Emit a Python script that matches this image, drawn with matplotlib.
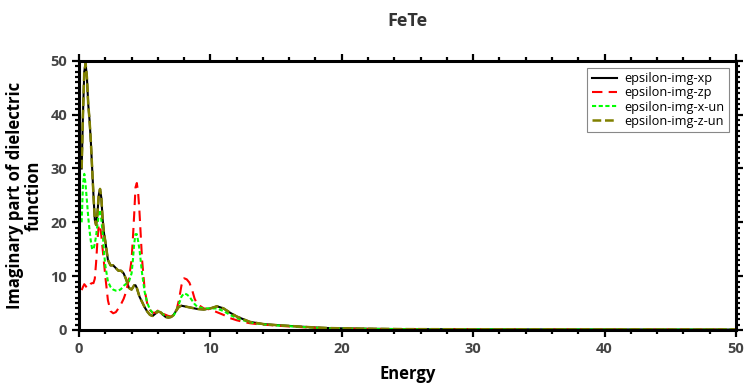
import matplotlib
matplotlib.use("Agg")
import matplotlib.pyplot as plt
from matplotlib.ticker import MultipleLocator

plt.rcParams['font.family'] = ['Open Sans', 'DejaVu Sans']

title = "FeTe"
xlabel = "Energy"
ylabel = "Imaginary part of dielectric\nfunction"
series_names = ["epsilon-img-xp", "epsilon-img-zp", "epsilon-img-x-un", "epsilon-img-z-un"]

energy = [0.2, 0.3, 0.4, 0.5, 0.6, 0.7, 0.8, 0.9, 1.0, 1.1, 1.2, 1.3, 1.4, 1.5, 1.6, 1.7, 1.8, 1.9,
          2.0, 2.2, 2.4, 2.6, 2.8, 3.0, 3.2, 3.4, 3.6, 3.8, 4.0, 4.1, 4.2, 4.3, 4.4, 4.5, 4.6, 4.8,
          5.0, 5.2, 5.4, 5.6, 5.8, 6.0, 6.2, 6.4, 6.6, 6.8, 7.0, 7.2, 7.4, 7.6, 7.8, 8.0, 8.2, 8.4,
          8.6, 8.8, 9.0, 9.5, 10.0, 10.5, 11.0, 11.5, 12.0, 12.5, 13.0, 13.5, 14, 15, 16, 17, 18, 19,
          20, 22, 25, 30, 35, 40, 45, 50]

eps_xp = [30, 40, 48, 49.5, 47, 42, 39, 35, 30, 25, 20.5, 19.5, 21.5, 25, 26.2, 24.5, 20.5, 18,
          16.5, 13, 12, 12, 11.5, 11, 11, 10.5, 9.3, 7.8, 7.5, 7.9, 8.3, 8.3, 7.8, 7, 6.2, 5.2,
          4.2, 3.4, 2.8, 2.6, 3.0, 3.4, 3.3, 2.8, 2.4, 2.3, 2.4, 2.8, 3.6, 4.3, 4.5, 4.4, 4.3, 4.2,
          4.1, 4.0, 3.9, 3.8, 4.0, 4.4, 4.0, 3.2, 2.5, 2.0, 1.5, 1.3, 1.1, 0.9, 0.75, 0.6, 0.45, 0.35,
          0.3, 0.22, 0.15, 0.12, 0.1, 0.09, 0.08, 0.07]

eps_zp = [7.4, 8.0, 8.5, 8.2, 7.8, 7.8, 8.2, 8.6, 8.7, 8.7, 9.5, 12.5, 16.5, 19.5, 19.5, 17.5, 15, 12.5,
          10, 5.5, 3.5, 3.1, 3.3, 4.0, 4.8, 5.8, 7.2, 9.5, 13, 17, 21.5, 26.5, 27.3, 25.5, 22, 13,
          7.4, 4.8, 3.7, 3.2, 3.2, 3.6, 3.5, 3.0, 2.8, 2.6, 2.5, 2.6, 3.5, 5.5, 8.3, 9.6, 9.4, 8.8,
          7.5, 5.8, 4.8, 4.0, 3.8, 3.3, 2.8, 2.2, 1.8, 1.5, 1.25, 1.1, 1.0, 0.8, 0.65, 0.5, 0.4, 0.3,
          0.25, 0.18, 0.12, 0.1, 0.08, 0.07, 0.06, 0.05]

eps_x_un = [20, 27, 29, 27, 24, 21, 18.5, 16.5, 15, 15, 16, 17.5, 19.5, 21.5, 22.3, 20.5, 18, 14.5,
            12, 9, 8, 7.5, 7.3, 7.3, 7.6, 8.2, 8.6, 9, 10.5, 13, 16, 17.8, 17.8, 16.5, 15, 10.5,
            7, 5, 3.8, 3.2, 3.2, 3.5, 3.4, 2.9, 2.6, 2.4, 2.4, 2.7, 3.5, 4.8, 6.2, 6.8, 6.6, 6.2,
            5.5, 4.8, 4.3, 4.0, 4.0, 4.0, 3.5, 2.8, 2.2, 1.8, 1.4, 1.2, 1.05, 0.85, 0.7, 0.55, 0.42, 0.33,
            0.28, 0.2, 0.14, 0.11, 0.09, 0.08, 0.07, 0.06]

eps_z_un = [30, 40, 48, 49.5, 47, 42, 39, 35, 30, 25, 20.5, 19.5, 21.5, 25, 26.2, 24.5, 20.5, 18,
            16.5, 13, 12, 12, 11.5, 11, 11, 10.5, 9.3, 7.8, 7.5, 7.9, 8.3, 8.3, 7.8, 7, 6.2, 5.2,
            4.2, 3.4, 2.8, 2.6, 3.0, 3.4, 3.3, 2.8, 2.4, 2.3, 2.4, 2.8, 3.6, 4.3, 4.5, 4.4, 4.3, 4.2,
            4.1, 4.0, 3.9, 3.8, 4.0, 4.4, 4.0, 3.2, 2.5, 2.0, 1.5, 1.3, 1.1, 0.9, 0.75, 0.6, 0.45, 0.35,
            0.3, 0.22, 0.15, 0.12, 0.1, 0.09, 0.08, 0.07]

fig = plt.figure(figsize=(7.49, 3.85), dpi=100)
ax = fig.add_axes([0.1055, 0.143, 0.877, 0.699])

ax.plot(energy, eps_xp, color='black', lw=1.5, ls='-', label=series_names[0])
ax.plot(energy, eps_zp, color='#ff0000', lw=1.5, ls=(0, (5, 3)), label=series_names[1])
ax.plot(energy, eps_x_un, color='#00ff00', lw=1.5, ls=(0, (2, 1.2)), label=series_names[2])
ax.plot(energy, eps_z_un, color='#808000', lw=1.8, ls=(0, (3.5, 1.5)), label=series_names[3])

ax.set_xlim(0, 50)
ax.set_ylim(0, 50)
ax.xaxis.set_major_locator(MultipleLocator(10))
ax.xaxis.set_minor_locator(MultipleLocator(2))
ax.yaxis.set_major_locator(MultipleLocator(10))
ax.yaxis.set_minor_locator(MultipleLocator(1))

for s in ax.spines.values():
    s.set_linewidth(2.2)
ax.tick_params(which='both', direction='out', top=True, right=True, width=1.6,
               labelsize=10.5, labelcolor='#444444')
ax.tick_params(which='major', length=5)
ax.tick_params(which='minor', length=3)
for lab in ax.get_xticklabels() + ax.get_yticklabels():
    lab.set_fontweight('bold')

ax.set_title(title, fontsize=13, fontweight='bold', color='#333333', pad=25)
ax.set_xlabel(xlabel, fontsize=12, fontweight='bold', labelpad=7)
ax.set_ylabel(ylabel, fontsize=12, fontweight='bold', labelpad=6, linespacing=1.0)

leg = ax.legend(loc='upper right', fontsize=9.2, frameon=True, fancybox=False,
                edgecolor='#888888', framealpha=1, handlelength=2.0, handletextpad=0.6,
                borderpad=0.35, labelspacing=0.1, borderaxespad=0,
                bbox_to_anchor=(0.99, 0.975))
leg.get_frame().set_linewidth(0.8)

fig.savefig("out.png", dpi=100)
